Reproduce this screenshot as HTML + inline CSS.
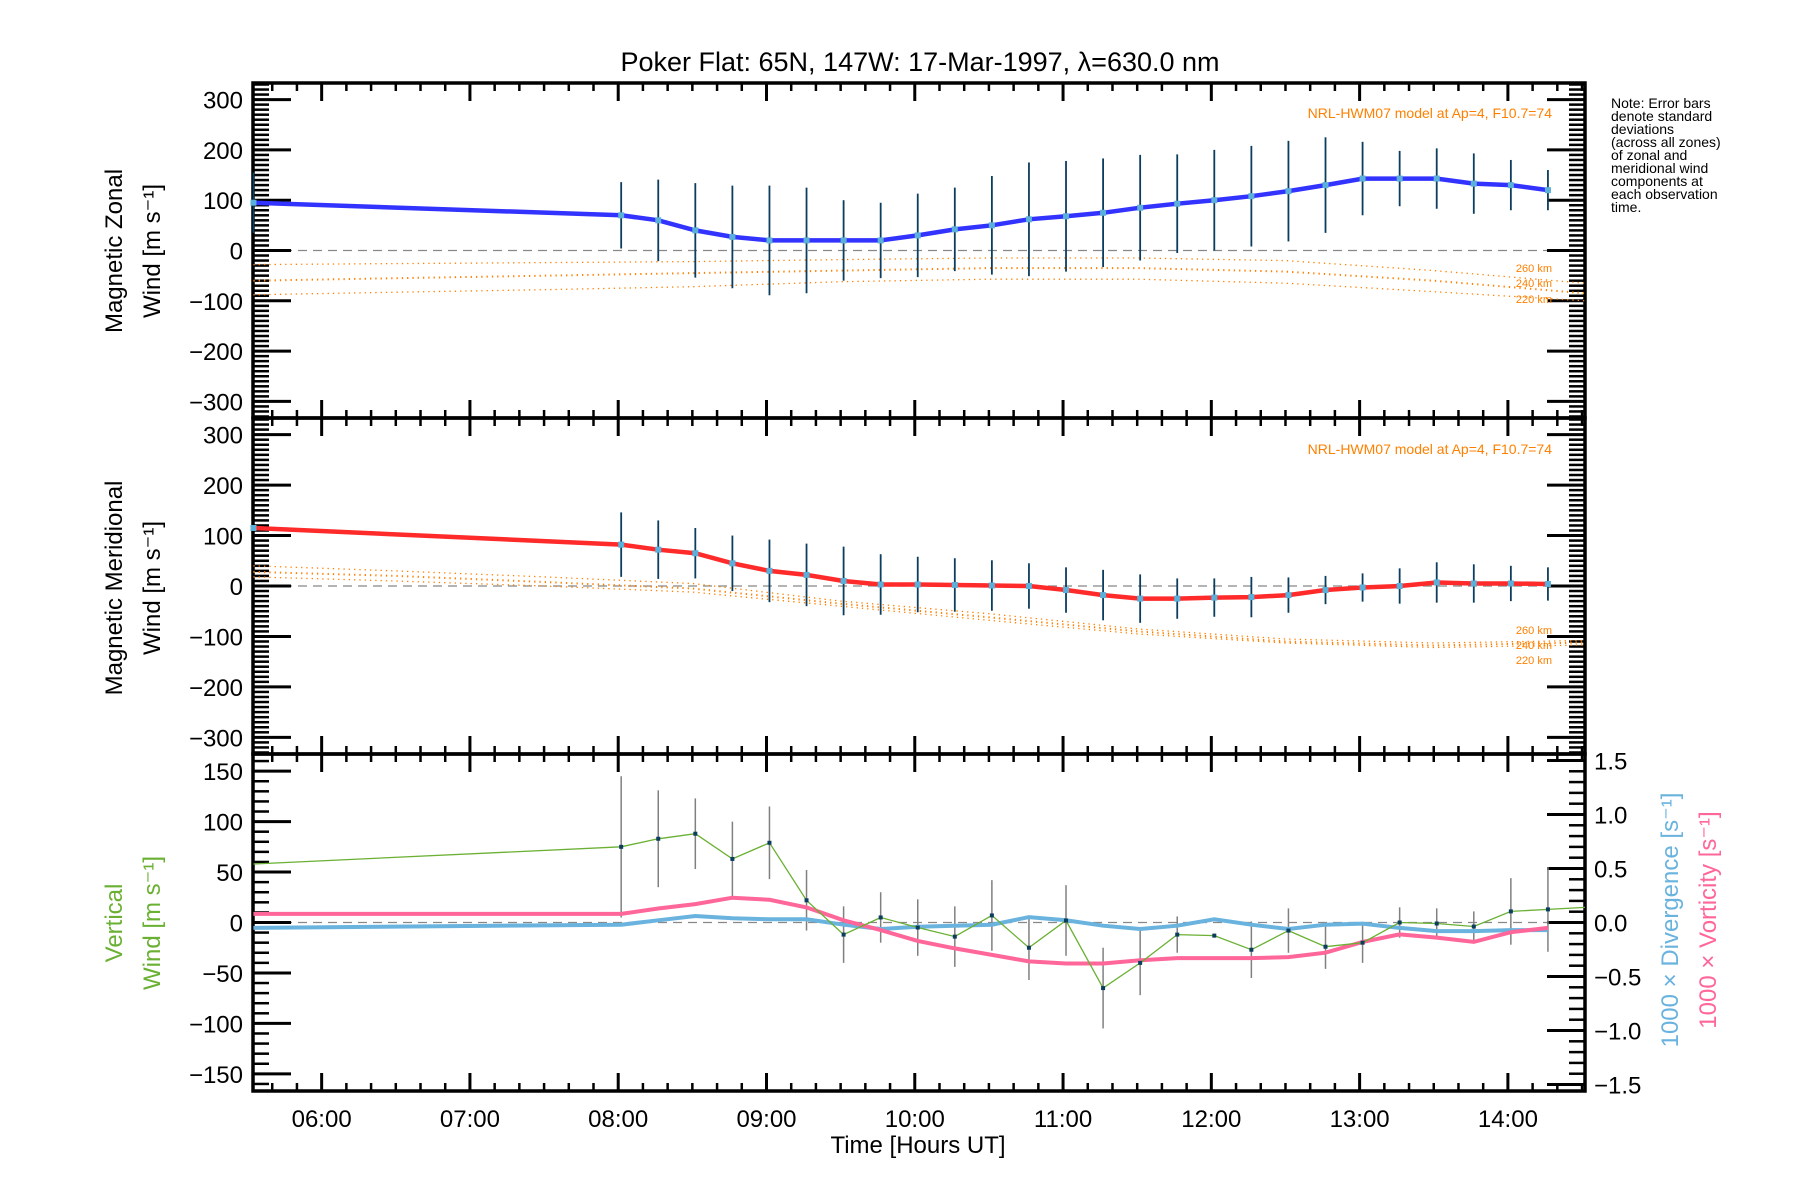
<!DOCTYPE html>
<html><head><meta charset="utf-8"><style>
html,body{margin:0;padding:0;background:#fff;}
svg{display:block;font-family:"Liberation Sans",sans-serif;}
</style></head><body>
<svg id="chart" width="1800" height="1200" viewBox="0 0 1800 1200" xmlns="http://www.w3.org/2000/svg"></svg>
<script>
// ---- data ----
const obsTimes = [5.54,8.02,8.27,8.52,8.77,9.02,9.27,9.52,9.77,10.02,10.27,10.52,10.77,11.02,11.27,11.52,11.77,12.02,12.27,12.52,12.77,13.02,13.27,13.52,13.77,14.02,14.27];
const zonal = [95,70,60,40,27,20,20,20,20,30,42,50,62,68,75,85,93,100,108,118,130,143,143,143,133,130,120];
const zonalErr = [60,66,81,94,102,109,105,80,75,83,83,98,113,110,108,105,98,100,100,100,95,73,55,60,60,50,40];
const merid = [115,82,72,65,45,30,22,10,3,3,2,1,0,-8,-18,-25,-25,-23,-22,-18,-8,-3,0,7,5,5,4];
const meridErr = [0,64,58,50,55,62,62,68,60,55,53,50,45,45,50,48,40,38,40,35,28,28,35,40,38,35,33];
const vertTimes = [5.54,8.02,8.27,8.52,8.77,9.02,9.27,9.52,9.77,10.02,10.27,10.52,10.77,11.02,11.27,11.52,11.77,12.02,12.27,12.52,12.77,13.02,13.27,13.52,13.77,14.02,14.27,14.52];
const vert = [58,75,83,88,63,79,22,-12,5,-5,-14,7,-25,2,-65,-40,-12,-13,-27,-8,-24,-20,0,-1,-4,11,13,15];
const vertErr = [0,70,48,35,37,36,30,28,25,28,30,35,32,35,40,32,18,2,28,22,22,20,15,15,15,33,42,0];
const divergence = [-0.05,-0.02,0.02,0.06,0.04,0.03,0.03,-0.02,-0.06,-0.04,-0.03,-0.02,0.05,0.02,-0.03,-0.06,-0.03,0.03,-0.02,-0.06,-0.02,-0.01,-0.05,-0.08,-0.08,-0.07,-0.07];
const vorticity = [0.08,0.08,0.13,0.17,0.23,0.21,0.14,0.02,-0.07,-0.17,-0.24,-0.30,-0.36,-0.38,-0.38,-0.35,-0.33,-0.33,-0.33,-0.32,-0.28,-0.18,-0.11,-0.14,-0.18,-0.09,-0.05];
const modelTimes = [5.54,6.5,7.5,8.5,9.5,10.5,11.5,12.5,13.5,14.52];
const zonal260 = [-28,-26,-24,-22,-18,-15,-15,-20,-40,-65];
const zonal240 = [-60,-55,-50,-45,-40,-35,-35,-42,-60,-85];
const zonal220 = [-88,-83,-78,-72,-62,-57,-57,-65,-82,-100];
const merid260 = [40,30,18,5,-30,-55,-85,-105,-113,-108];
const merid240 = [28,20,8,-5,-35,-62,-90,-110,-118,-112];
const merid220 = [18,10,0,-12,-40,-68,-95,-113,-122,-117];
const xTickLabels = ["06:00","07:00","08:00","09:00","10:00","11:00","12:00","13:00","14:00"];
const xTickHours = [6,7,8,9,10,11,12,13,14];
const windTicks = [300,200,100,0,-100,-200,-300];
const vertTicks = [150,100,50,0,-50,-100,-150];
const rightTicks = [1.5,1.0,0.5,0.0,-0.5,-1.0,-1.5];

// ---- geometry ----
const L=253,R=1585,X0=5.537,X1=14.52;
const panels=[{t:83,b:418,min:-333,max:333},{t:418,b:754,min:-333,max:333},{t:754,b:1091,min:-167,max:167}];
const RMIN=-1.56,RMAX=1.56;
const xs=h=>L+(h-X0)/(X1-X0)*(R-L);
const ys=(p,v)=>p.b-(v-p.min)/(p.max-p.min)*(p.b-p.t);
const yr=v=>panels[2].b-(v-RMIN)/(RMAX-RMIN)*(panels[2].b-panels[2].t);
const svg=document.getElementById('chart');
const NS='http://www.w3.org/2000/svg';
function mk(tag,attrs,parent){const e=document.createElementNS(NS,tag);for(const k in attrs)e.setAttribute(k,attrs[k]);(parent||svg).appendChild(e);return e;}
function txt(s,x,y,size,fill,anchor,rot){const e=mk('text',{x:x,y:y,'font-size':size,fill:fill||'#000','text-anchor':anchor||'middle'});if(rot)e.setAttribute('transform','rotate(-90 '+x+' '+y+')');e.textContent=s;return e;}
function pathFrom(tx,vals,yf){return tx.map((t,i)=>(i?'L':'M')+xs(t).toFixed(1)+','+yf(vals[i]).toFixed(1)).join(' ');}

// title
let t=txt('Poker Flat: 65N, 147W: 17-Mar-1997, λ=630.0 nm',920,71,27);



panels.forEach((p,pi)=>{
  const g=mk('g',{});
  
  
  const z=mk('line',{x1:L,x2:R,y1:ys(p,0),y2:ys(p,0),stroke:'#888','stroke-width':1.3,'stroke-dasharray':'9,6'},g);
  
  
  for(let m=Math.ceil(X0*6);m<=X1*6;m++){
    const x=xs(m/6),maj=m%6===0,len=maj?18:8;
    mk('line',{x1:x,x2:x,y1:p.b,y2:p.b-len,stroke:'#000','stroke-width':maj?3:2.5},g);
    mk('line',{x1:x,x2:x,y1:p.t,y2:p.t+len,stroke:'#000','stroke-width':maj?3:2.5},g);
  }
  const step=10,majStep=pi<2?100:50;
  for(let v=Math.ceil(p.min/step)*step;v<=p.max;v+=step){
    const y=ys(p,v),maj=v%majStep===0,len=maj?38:16;
    mk('line',{x1:L,x2:L+len,y1:y,y2:y,stroke:'#000','stroke-width':maj?3:2.5},g);
    if(pi<2) mk('line',{x1:R,x2:R-len,y1:y,y2:y,stroke:'#000','stroke-width':maj?3:2.5},g);
  }
  if(pi===2){
    for(let k=-15;k<=15;k++){const y=yr(k/10),maj=k%5===0,len=maj?38:16;
      mk('line',{x1:R,x2:R-len,y1:y,y2:y,stroke:'#000','stroke-width':maj?3:2.5},g);}
  }
  const fr=mk('rect',{x:L,y:p.t,width:R-L,height:p.b-p.t,fill:'none',stroke:'#000','stroke-width':3.5},g);
  
  
  const ticks=pi<2?windTicks:vertTicks;
  ticks.forEach(v=>{const e=txt(String(v).replace('-','−'),243,ys(p,v)+9,24,'#000','end');
    
    });
});
rightTicks.forEach(v=>{const e=txt((v<0?'−':'')+Math.abs(v).toFixed(1),1594,yr(v)+9,24,'#000','start');
  
  });
xTickHours.forEach((h,i)=>{const e=txt(xTickLabels[i],xs(h),1127,24);
  
  });
let xt=txt('Time [Hours UT]',918,1153,24);



[[122,251,'Magnetic Zonal','#000'],[160,251,'Wind [m s⁻¹]','#000'],[122,588,'Magnetic Meridional','#000'],[160,588,'Wind [m s⁻¹]','#000'],[122,923,'Vertical','#6ab033'],[160,923,'Wind [m s⁻¹]','#6ab033']].forEach(a=>{
  const e=txt(a[2],a[0],a[1],24,a[3],'middle',true);
  
  });
let d1=txt('1000 × Divergence [s⁻¹]',1678,920,24,'#69b3de','middle',true);


let d2=txt('1000 × Vorticity [s⁻¹]',1716,920,24,'#ff6699','middle',true);



['Note: Error bars','denote standard','deviations','(across all zones)','of zonal and','meridional wind','components at','each observation','time.'].forEach((s,i)=>{
  const e=txt(s,1611,108+i*13,14,'#000','start');
  
  });

function modelPanel(p,arrs,labelYs,labelY){
  arrs.forEach((a,i)=>{const e=mk('path',{d:pathFrom(modelTimes,a,v=>ys(p,v)),fill:'none',stroke:'#ff8000','stroke-width':i===1?2:1.3,'stroke-dasharray':'1.3,4'});
    
    });
  ['260 km','240 km','220 km'].forEach((s,i)=>{const e=txt(s,1552,labelYs[i],11,'#ff8000','end');
    
    });
  const m=txt('NRL-HWM07 model at Ap=4, F10.7=74',1552,labelY,14,'#ff8000','end');
  
  
}
modelPanel(panels[0],[zonal260,zonal240,zonal220],[272,287,303],118);
modelPanel(panels[1],[merid260,merid240,merid220],[634,649,664],454);

function windPanel(p,vals,errs,color,name){
  obsTimes.forEach((tm,i)=>{if(!errs[i])return;const x=xs(tm);
    const e=mk('line',{x1:x,x2:x,y1:ys(p,vals[i]+errs[i]),y2:ys(p,vals[i]-errs[i]),stroke:'#0b3d5e','stroke-width':1.8});
    
    });
  const l=mk('path',{d:pathFrom(obsTimes,vals,v=>ys(p,v)),fill:'none',stroke:color,'stroke-width':4.5});
  
  
  obsTimes.forEach((tm,i)=>{const e=mk('rect',{x:xs(tm)-3,y:ys(p,vals[i])-3,width:6,height:6,fill:'#5ab0d8'});
    
    });
}
windPanel(panels[0],zonal,zonalErr,'#3333ff','zonal');
windPanel(panels[1],merid,meridErr,'#ff2a2a','meridional');

const p3=panels[2];
vertTimes.forEach((tm,i)=>{if(!vertErr[i])return;const x=xs(tm);
  const e=mk('line',{x1:x,x2:x,y1:ys(p3,vert[i]+vertErr[i]),y2:ys(p3,vert[i]-vertErr[i]),stroke:'#808080','stroke-width':1.5});
  
  });
const dv=mk('path',{d:pathFrom(obsTimes,divergence,yr),fill:'none',stroke:'#69b3de','stroke-width':4});


const vo=mk('path',{d:pathFrom(obsTimes,vorticity,yr),fill:'none',stroke:'#ff6699','stroke-width':4});


const vl=mk('path',{d:pathFrom(vertTimes,vert,v=>ys(p3,v)),fill:'none',stroke:'#6ab033','stroke-width':1.3});


vertTimes.forEach((tm,i)=>{if(i===0||i===vertTimes.length-1)return;const e=mk('rect',{x:xs(tm)-2,y:ys(p3,vert[i])-2,width:4,height:4,fill:'#0b3d5e'});
  
  });
</script>
</body></html>
